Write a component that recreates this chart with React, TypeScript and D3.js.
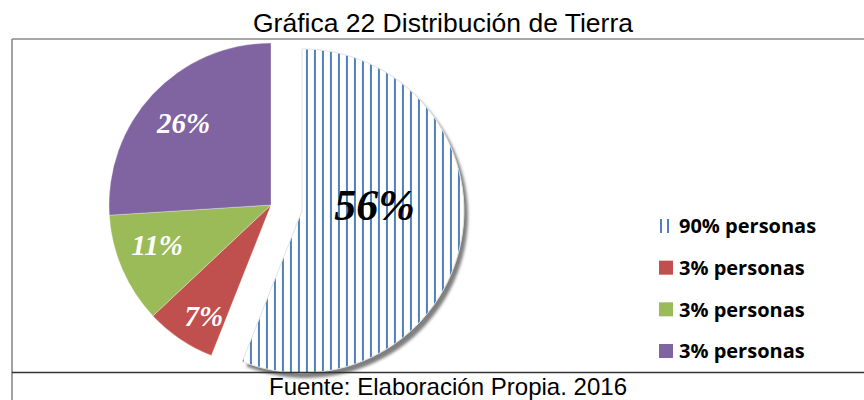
import React from "react";
import * as d3 from "d3";

// ---- data ----
const sliceValues = [56, 7, 11, 26];
const sliceLabels = ["90% personas", "3% personas", "3% personas", "3% personas"];
const sliceColors = ["#4F81BD", "#C0504D", "#9BBB59", "#8064A2"];
const titleText = "Gráfica 22 Distribución de Tierra";
const footerText = "Fuente: Elaboración Propia. 2016";

// ---- layout ----
const W = 864;
const H = 400;
const cx = 271;
const cy = 205;
const R = 162;
const explode = 31.5;
const labelRadius = [0.45, 0.8, 0.745, 0.74];
const labelNudgeDeg = [-16, -3, 4, 0];
const labelSize = [44, 29, 29, 29];

export default function App() {
  const pie = d3.pie<number>().sort(null).value((d) => d);
  const arcs = pie(sliceValues);
  const arc = d3.arc<d3.PieArcDatum<number>>().innerRadius(0).outerRadius(R);

  const legendY = d3.scalePoint<number>().domain(d3.range(sliceValues.length)).range([226, 351]);

  const offsets = arcs.map((a, i) => {
    if (i !== 0) return [0, 0];
    const m = (a.startAngle + a.endAngle) / 2;
    return [Math.sin(m) * explode, -Math.cos(m) * explode];
  });

  return (
    <svg width={W} height={H} style={{ position: "absolute", left: 0, top: 0, background: "#fff" }}>
      <defs>
        <pattern id="vlines" patternUnits="userSpaceOnUse" x={308} y={0} width={8} height={8}>
          <rect width={8} height={8} fill="#fff" />
          <rect x={0} width={2} height={8} fill={sliceColors[0]} />
        </pattern>
        <pattern id="vlinesLegend" patternUnits="userSpaceOnUse" x={660} y={0} width={7} height={7}>
          <rect width={7} height={7} fill="#fff" />
          <rect x={0} width={2} height={7} fill={sliceColors[0]} />
        </pattern>
        <filter id="blur" x="-20%" y="-20%" width="140%" height="140%">
          <feGaussianBlur stdDeviation={1.5} />
        </filter>
      </defs>

      {/* frame */}
      <line x1={12} x2={W} y1={39} y2={39} stroke="#8a8a8a" strokeWidth={1.6} />
      <line x1={12} x2={12} y1={39} y2={H} stroke="#8a8a8a" strokeWidth={1.6} />

      {/* title */}
      <text
        x={443}
        y={32}
        textAnchor="middle"
        fontFamily="Liberation Sans, Arial, sans-serif"
        fontSize={25}
        textLength={380}
        lengthAdjust="spacingAndGlyphs"
        fill="#000"
      >
        {titleText}
      </text>

      {/* pie */}
      <g transform={`translate(${cx},${cy})`}>
        {arcs.map((a, i) =>
          i === 0 ? (
            <path
              key={"sh" + i}
              d={arc(a) || ""}
              transform={`translate(${offsets[i][0] + 4},${offsets[i][1] + 5})`}
              fill="#7f7f7f"
              filter="url(#blur)"
            />
          ) : null
        )}
        {arcs.map((a, i) => (
          <path
            key={i}
            d={arc(a) || ""}
            transform={`translate(${offsets[i][0]},${offsets[i][1]})`}
            fill={i === 0 ? "url(#vlines)" : sliceColors[i]}
            stroke={i === 0 ? "#e2e2e2" : "#ffffff"}
            strokeOpacity={i === 0 ? 1 : 0.5}
            strokeWidth={i === 0 ? 1 : 0.6}
          />
        ))}
        {arcs.map((a, i) => {
          const m = (a.startAngle + a.endAngle) / 2 + (labelNudgeDeg[i] * Math.PI) / 180;
          const r = labelRadius[i] * R;
          const x = Math.sin(m) * r + offsets[i][0];
          const y = -Math.cos(m) * r + offsets[i][1];
          return (
            <text
              key={"l" + i}
              x={x}
              y={y}
              dy="0.35em"
              textAnchor="middle"
              fontFamily="Liberation Serif, Times New Roman, serif"
              fontStyle="italic"
              fontWeight="bold"
              fontSize={labelSize[i]}
              fill={i === 0 ? "#000" : "#fff"}
            >
              {a.data + "%"}
            </text>
          );
        })}
      </g>

      {/* legend */}
      {sliceLabels.map((lab, i) => (
        <g key={"lg" + i} transform={`translate(0,${legendY(i)})`}>
          <rect
            x={659}
            y={-7}
            width={14}
            height={14}
            fill={i === 0 ? "url(#vlinesLegend)" : sliceColors[i]}
          />
          <text
            x={679}
            y={0}
            dy="0.36em"
            fontFamily="Open Sans, sans-serif"
            fontWeight="bold"
            fontSize={20}
            fill="#000"
          >
            {lab}
          </text>
        </g>
      ))}

      {/* bottom rule + footer */}
      <line x1={12} x2={W} y1={372.5} y2={372.5} stroke="#333" strokeWidth={1.6} />
      <text
        x={448}
        y={395}
        textAnchor="middle"
        fontFamily="Liberation Sans, Arial, sans-serif"
        fontSize={24}
        textLength={358}
        lengthAdjust="spacingAndGlyphs"
        fill="#000"
      >
        {footerText}
      </text>
    </svg>
  );
}
